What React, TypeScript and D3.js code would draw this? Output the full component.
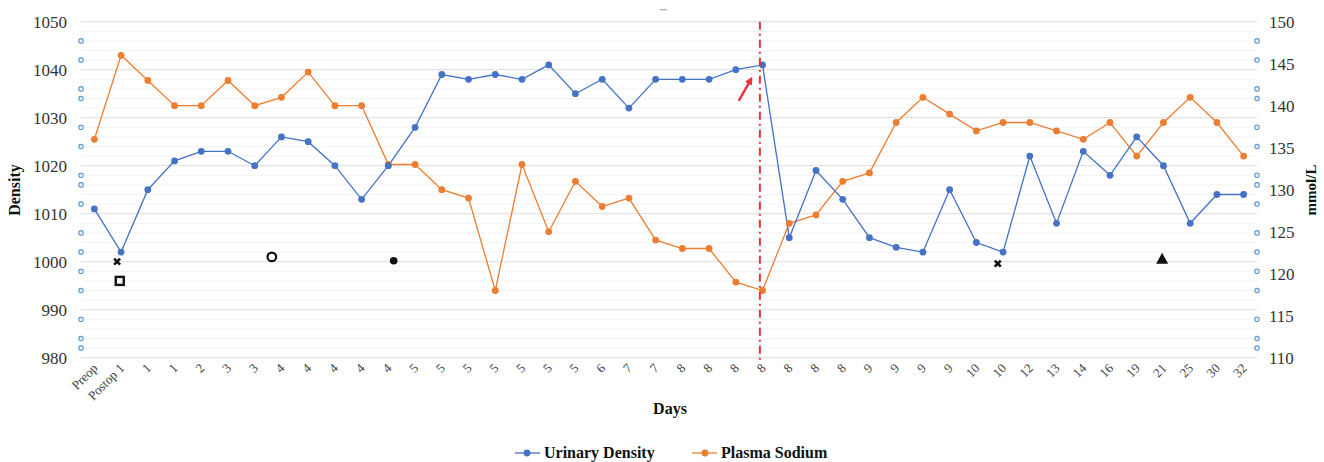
import React from 'react';
import { scaleLinear, line, range } from 'd3';

// x-axis categories (days)
const days = [
  'Preop', 'Postop 1', '1', '1', '2', '3', '3', '4', '4', '4', '4', '4',
  '5', '5', '5', '5', '5', '5', '5', '6', '7', '7', '8', '8', '8', '8', '8', '8', '8',
  '9', '9', '9', '9', '10', '10', '12', '13', '14', '16', '19', '21', '25', '30', '32',
];

const urinaryDensity = [
  1011, 1002, 1015, 1021, 1023, 1023, 1020, 1026, 1025, 1020, 1013, 1020,
  1028, 1039, 1038, 1039, 1038, 1041, 1035, 1038, 1032, 1038, 1038, 1038, 1040, 1041,
  1005, 1019, 1013, 1005, 1003, 1002, 1015, 1004, 1002, 1022, 1008, 1023, 1018, 1026,
  1020, 1008, 1014, 1014,
];

const plasmaSodium = [
  136, 146, 143, 140, 140, 143, 140, 141, 144, 140, 140, 133,
  133, 130, 129, 118, 133, 125, 131, 128, 129, 124, 123, 123, 119, 118,
  126, 127, 131, 132, 138, 141, 139, 137, 138, 138, 137, 136, 138, 134,
  138, 141, 138, 134,
];

const leftTicks = [980, 990, 1000, 1010, 1020, 1030, 1040, 1050];
const rightTicks = [110, 115, 120, 125, 130, 135, 140, 145, 150];

// small hollow rings along both value axes (density units)
const axisRings = [1046, 1042, 1036, 1034, 1028, 1024, 1018, 1016, 1012, 1006, 1002, 998, 994, 988, 984, 982];

// black annotation symbols: [category position, density]
const symbols = [
  { kind: 'cross', at: 0.85, value: 1000 },
  { kind: 'square', at: 0.95, value: 996 },
  { kind: 'ring', at: 6.64, value: 1001 },
  { kind: 'dot', at: 11.2, value: 1000.2 },
  { kind: 'cross', at: 33.8, value: 999.6 },
  { kind: 'triangle', at: 39.95, value: 1000.6 },
];

const cutoffAt = 24.9;
const arrowFrom = { at: 24.13, value: 1033.7 };
const arrowTo = { at: 24.6, value: 1038.3 };

const BLUE = '#4472c4';
const ORANGE = '#ed7d31';
const FONT = '"Liberation Serif", "Times New Roman", serif';

export default function App() {
  const left = 81;
  const right = 1257;
  const top = 21.7;
  const bottom = 357.7;

  const x = scaleLinear().domain([-0.5, days.length - 0.5]).range([left, right]);
  const yL = scaleLinear().domain([980, 1050]).range([bottom, top]);
  const yR = scaleLinear().domain([110, 150]).range([bottom, top]);

  const blueLine = line<number>().x((_, i) => x(i)).y((d) => yL(d));
  const orangeLine = line<number>().x((_, i) => x(i)).y((d) => yR(d));

  const minor = range(980, 1051, 2).filter((v) => v % 10 !== 0);

  const drawSymbol = (s: typeof symbols[number], i: number) => {
    const cx = x(s.at);
    const cy = yL(s.value);
    if (s.kind === 'cross') {
      return (
        <g key={i} stroke="#111" strokeWidth={2.6}>
          <line x1={cx - 3} y1={cy - 3} x2={cx + 3} y2={cy + 3} />
          <line x1={cx - 3} y1={cy + 3} x2={cx + 3} y2={cy - 3} />
        </g>
      );
    }
    if (s.kind === 'square') {
      return <rect key={i} x={cx - 4} y={cy - 4} width={8} height={8} fill="#fff" stroke="#111" strokeWidth={2.4} />;
    }
    if (s.kind === 'ring') {
      return <circle key={i} cx={cx} cy={cy} r={4.3} fill="#fff" stroke="#111" strokeWidth={2.2} />;
    }
    if (s.kind === 'dot') {
      return <circle key={i} cx={cx} cy={cy} r={3.8} fill="#111" />;
    }
    return (
      <path key={i} d={`M${cx},${cy - 6}L${cx + 6},${cy + 5}L${cx - 6},${cy + 5}Z`} fill="#111" />
    );
  };

  const ax0 = x(arrowFrom.at);
  const ay0 = yL(arrowFrom.value);
  const ax1 = x(arrowTo.at);
  const ay1 = yL(arrowTo.value);
  const ang = Math.atan2(ay1 - ay0, ax1 - ax0);
  const head = 7;
  const hx1 = ax1 - head * Math.cos(ang - 0.45);
  const hy1 = ay1 - head * Math.sin(ang - 0.45);
  const hx2 = ax1 - head * Math.cos(ang + 0.45);
  const hy2 = ay1 - head * Math.sin(ang + 0.45);

  return (
    <svg width={1324} height={462} style={{ position: 'absolute', left: 0, top: 0, background: '#fff' }} fontFamily={FONT}>
      {/* minor grid */}
      {minor.map((v) => (
        <line key={'m' + v} x1={left} x2={right} y1={yL(v)} y2={yL(v)} stroke="#f3f3f3" strokeWidth={1} />
      ))}
      {/* major grid */}
      {leftTicks.map((v) => (
        <line key={'g' + v} x1={left} x2={right} y1={yL(v)} y2={yL(v)} stroke="#dcdcdc" strokeWidth={1} />
      ))}

      {/* tiny title placeholder */}
      <line x1={660} x2={667} y1={9.7} y2={9.7} stroke="#9a9a9a" strokeWidth={1} />

      {/* left axis labels */}
      {leftTicks.map((v) => (
        <text key={'l' + v} x={67} y={yL(v)} dy="0.35em" textAnchor="end" fontSize={17} fill="#333">
          {v}
        </text>
      ))}
      {/* right axis labels */}
      {rightTicks.map((v) => (
        <text key={'r' + v} x={1269} y={yR(v)} dy="0.35em" textAnchor="start" fontSize={17} fill="#333">
          {v}
        </text>
      ))}

      {/* axis rings */}
      {axisRings.map((v, i) => (
        <g key={'ring' + i} fill="#fff" stroke="#5b9bd5" strokeWidth={1.2}>
          <circle cx={left} cy={yL(v)} r={2.2} />
          <circle cx={right} cy={yL(v)} r={2.2} />
        </g>
      ))}

      {/* x tick labels */}
      {days.map((d, i) => (
        <text
          key={'x' + i}
          transform={`translate(${x(i) + 4},${369}) rotate(-45)`}
          textAnchor="end"
          fontSize={13}
          fill="#444"
        >
          {d}
        </text>
      ))}

      {/* series */}
      <path d={orangeLine(plasmaSodium) ?? ''} fill="none" stroke={ORANGE} strokeWidth={1.3} />
      <path d={blueLine(urinaryDensity) ?? ''} fill="none" stroke={BLUE} strokeWidth={1.3} />
      {plasmaSodium.map((v, i) => (
        <circle key={'o' + i} cx={x(i)} cy={yR(v)} r={3.4} fill={ORANGE} />
      ))}
      {urinaryDensity.map((v, i) => (
        <circle key={'b' + i} cx={x(i)} cy={yL(v)} r={3.4} fill={BLUE} />
      ))}

      {/* cutoff line */}
      <line
        x1={x(cutoffAt)}
        x2={x(cutoffAt)}
        y1={top}
        y2={bottom + 2}
        stroke="#e8323c"
        strokeWidth={2}
        strokeDasharray="8,4,2,4"
      />

      {/* red arrow */}
      <g stroke="#e8323c" strokeWidth={2.4} fill="#e8323c" strokeLinecap="round">
        <line x1={ax0} y1={ay0} x2={ax1 - 2 * Math.cos(ang)} y2={ay1 - 2 * Math.sin(ang)} />
        <path d={`M${ax1},${ay1}L${hx1},${hy1}L${hx2},${hy2}Z`} strokeWidth={1} />
      </g>

      {/* annotation symbols */}
      {symbols.map(drawSymbol)}

      {/* axis titles */}
      <text transform="translate(20,190) rotate(-90)" textAnchor="middle" fontSize={16} fontWeight="bold" fill="#111">
        Density
      </text>
      <text transform="translate(1316,190) rotate(-90)" textAnchor="middle" fontSize={15} fontWeight="bold" fill="#111">
        mmol/L
      </text>
      <text x={670} y={414} textAnchor="middle" fontSize={16} fontWeight="bold" fill="#111">
        Days
      </text>

      {/* legend */}
      <g>
        <line x1={515} x2={540} y1={453} y2={453} stroke={BLUE} strokeWidth={1.3} />
        <circle cx={527} cy={453} r={3.4} fill={BLUE} />
        <text x={544} y={458} fontSize={16} fontWeight="bold" fill="#111">
          Urinary Density
        </text>
        <line x1={692} x2={717} y1={453} y2={453} stroke={ORANGE} strokeWidth={1.3} />
        <circle cx={705} cy={453} r={3.4} fill={ORANGE} />
        <text x={721} y={458} fontSize={16} fontWeight="bold" fill="#111">
          Plasma Sodium
        </text>
      </g>
    </svg>
  );
}
